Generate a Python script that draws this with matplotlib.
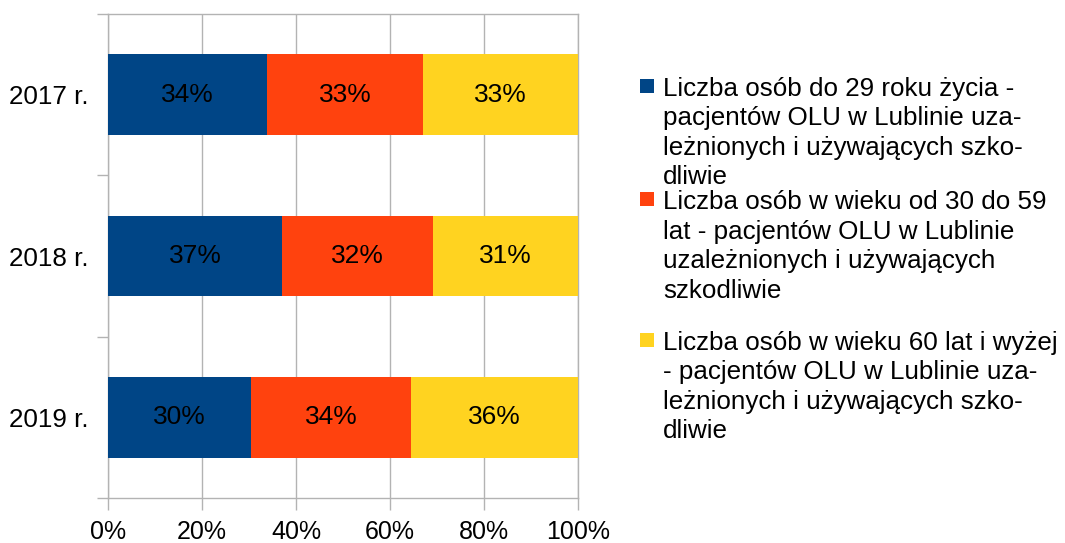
import matplotlib
matplotlib.use("Agg")
import matplotlib.pyplot as plt
from matplotlib.patches import Rectangle
from matplotlib.ticker import FixedLocator, PercentFormatter

plt.rcParams['font.family'] = ['Liberation Sans', 'DejaVu Sans']

categories = ["2017 r.", "2018 r.", "2019 r."]
series_names = [
    "Liczba osób do 29 roku życia - pacjentów OLU w Lublinie uzależnionych i używających szkodliwie",
    "Liczba osób w wieku od 30 do 59 lat - pacjentów OLU w Lublinie uzależnionych i używających szkodliwie",
    "Liczba osób w wieku 60 lat i wyżej - pacjentów OLU w Lublinie uzależnionych i używających szkodliwie",
]
legend_lines = [
    ["Liczba osób do 29 roku życia -", "pacjentów OLU w Lublinie uza-",
     "leżnionych i używających szko-", "dliwie"],
    ["Liczba osób w wieku od 30 do 59", "lat - pacjentów OLU w Lublinie",
     "uzależnionych i używających", "szkodliwie"],
    ["Liczba osób w wieku 60 lat i wyżej", "- pacjentów OLU w Lublinie uza-",
     "leżnionych i używających szko-", "dliwie"],
]
young = [33.8, 37.0, 30.4]
middle = [33.2, 32.1, 34.1]
old = [33.0, 30.9, 35.5]
labels = [["34%", "37%", "30%"], ["33%", "32%", "34%"], ["33%", "31%", "36%"]]
colors = ["#004586", "#ff420e", "#ffd320"]
xticks = [0, 20, 40, 60, 80, 100]

W, H = 1065, 543
fig = plt.figure(figsize=(W / 100, H / 100), dpi=100)
ax = fig.add_axes([108 / W, 1 - 498 / H, (578 - 108) / W, (498 - 14) / H])

grid_c = "#b3b3b3"
ypos = list(range(len(categories)))
left = [0] * len(categories)
for vals, col, labs in zip([young, middle, old], colors, labels):
    bars = ax.barh(ypos, vals, left=left, height=0.5, color=col, zorder=3)
    ax.bar_label(bars, labels=labs, label_type='center', fontsize=19, color='black')
    left = [l + v for l, v in zip(left, vals)]

ax.set_xlim(0, 100)
ax.set_ylim(2.5, -0.5)
ax.set_xticks(xticks)
ax.xaxis.set_major_formatter(PercentFormatter(decimals=0))
ax.set_yticks(ypos)
ax.set_yticklabels(categories)
ax.yaxis.set_minor_locator(FixedLocator([-0.5, 0.5, 1.5, 2.5]))
ax.tick_params(axis='y', which='major', length=0, pad=14, labelsize=18.7)
ax.tick_params(axis='y', which='minor', length=8, color=grid_c, width=1)
ax.tick_params(axis='x', which='major', length=8.5, color=grid_c, width=1, pad=7, labelsize=18)
ax.grid(axis='x', color=grid_c, linewidth=1, zorder=0)
for s in ax.spines.values():
    s.set_color(grid_c)
    s.set_linewidth(1)

# legend
sq = 14
entry_y = [86, 199, 340]
dy = 29.5
for lines, col, y0 in zip(legend_lines, colors, entry_y):
    fig.patches.append(Rectangle((640 / W, 1 - (y0 + sq / 2) / H), sq / W, sq / H,
                                 transform=fig.transFigure, facecolor=col, edgecolor='none'))
    for i, line in enumerate(lines):
        fig.text(663 / W, 1 - (y0 + 3 + i * dy) / H, line, fontsize=18.7, va='center', ha='left')

fig.savefig("out.png", dpi=100)
